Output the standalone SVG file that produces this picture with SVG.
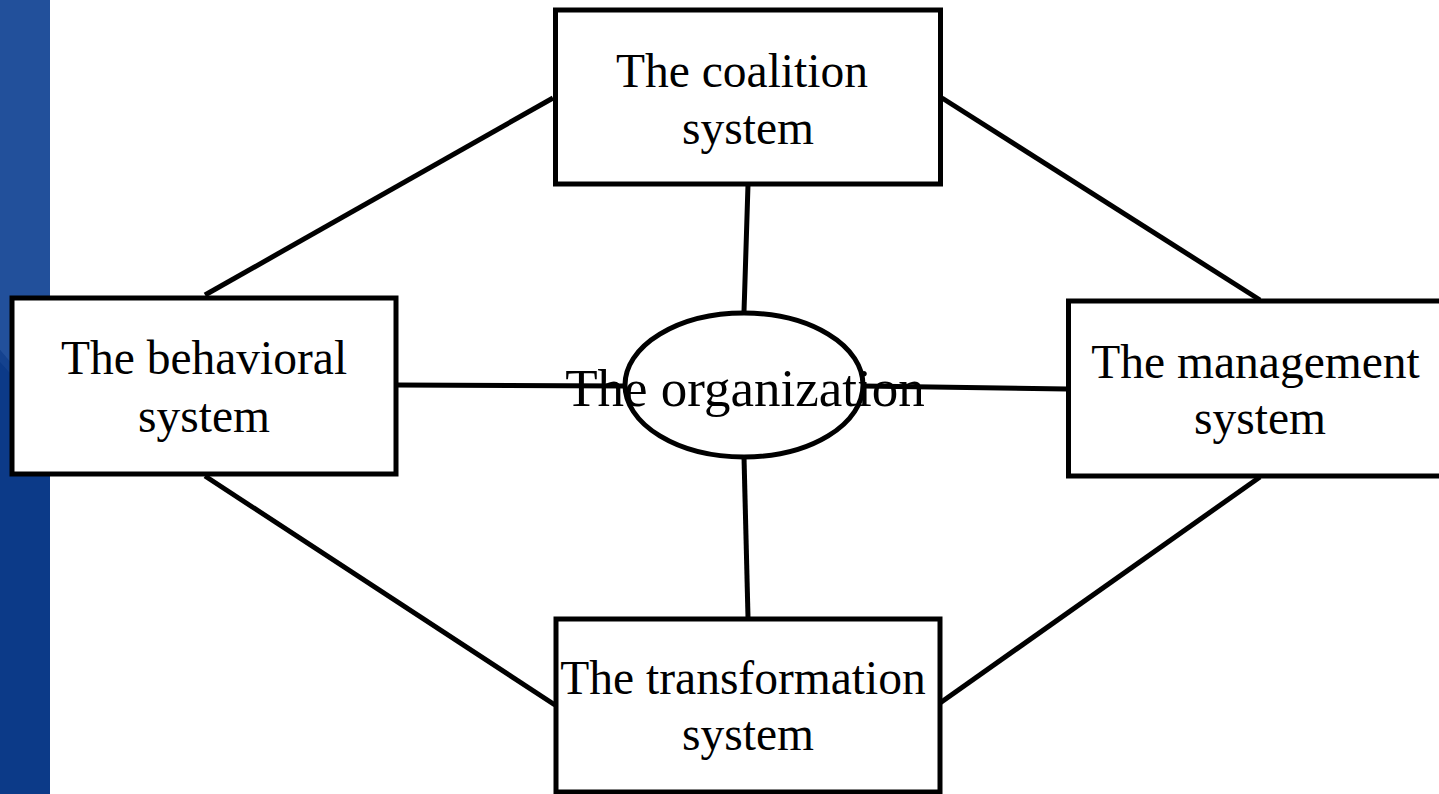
<svg xmlns="http://www.w3.org/2000/svg" width="1439" height="794" viewBox="0 0 1439 794">
  <style>
    .box { fill: #ffffff; stroke: #000000; stroke-width: 5; }
    .link { stroke: #000000; stroke-width: 5; fill: none; }
    .label { font-family: "Liberation Serif", "Times New Roman", serif; font-size: 47.5px; fill: #000000; text-anchor: middle; }
    .core { font-family: "Liberation Serif", "Times New Roman", serif; font-size: 53px; fill: #000000; text-anchor: middle; }
  </style>

  <!-- page background and side band -->
  <rect x="0" y="0" width="1439" height="794" fill="#ffffff"/>
  <rect x="0" y="0" width="50" height="794" fill="#0c3a88"/>
  <path d="M0 0 H50 V417 Q25 378 0 350 Z" fill="#22509b"/>
  <path d="M0 350 Q25 378 50 417 V426 Q25 388 0 362 Z" fill="#1a4794" opacity="0.6"/>

  <!-- connectors -->
  <g id="connectors">
    <line class="link" x1="553" y1="98" x2="205" y2="295"/>
    <line class="link" x1="942" y1="98" x2="1260" y2="300"/>
    <line class="link" x1="748" y1="185" x2="744" y2="312"/>
    <line class="link" x1="396" y1="385" x2="625" y2="386"/>
    <line class="link" x1="863" y1="386" x2="1067" y2="389"/>
    <line class="link" x1="744" y1="457" x2="748" y2="617"/>
    <line class="link" x1="205" y1="476" x2="555" y2="705"/>
    <line class="link" x1="1260" y1="477" x2="940" y2="703"/>
  </g>

  <g id="coalition">
    <rect class="box" x="555.5" y="10" width="385" height="174"/>
    <text class="label" x="742" y="87">The coalition</text>
    <text class="label" x="748" y="144">system</text>
  </g>

  <g id="behavioral">
    <rect class="box" x="12" y="298" width="384" height="176"/>
    <text class="label" x="204" y="374">The behavioral</text>
    <text class="label" x="204" y="432">system</text>
  </g>

  <g id="management">
    <rect class="box" x="1068.5" y="301" width="380" height="175"/>
    <text class="label" x="1255.5" y="378">The management</text>
    <text class="label" x="1260" y="434">system</text>
  </g>

  <g id="transformation">
    <rect class="box" x="556" y="619" width="384" height="173"/>
    <text class="label" x="743" y="694">The transformation</text>
    <text class="label" x="748" y="750">system</text>
  </g>

  <g id="organization">
    <ellipse class="box" cx="744" cy="385" rx="119" ry="72"/>
    <text class="core" x="745" y="406">The organization</text>
  </g>
</svg>
